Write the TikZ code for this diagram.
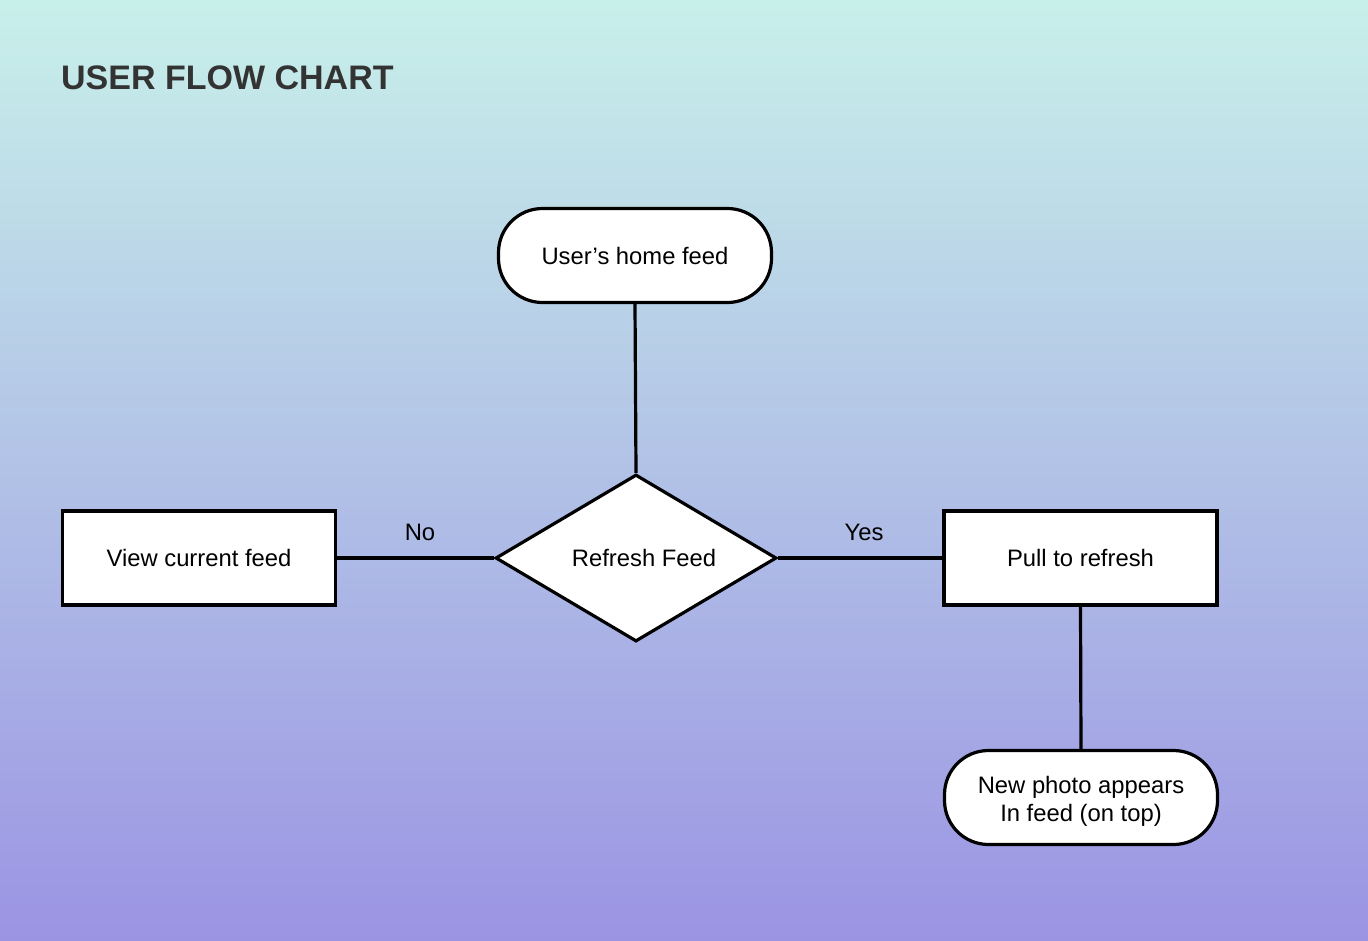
\documentclass[tikz,border=0pt]{standalone}
\usepackage{fontspec}
\setmainfont{Liberation Sans}
\usetikzlibrary{shapes.geometric}
\definecolor{bgtop}{HTML}{C8F0EA}
\definecolor{bgbottom}{HTML}{9B94E3}
\definecolor{titlegray}{HTML}{333333}

\begin{document}
\begin{tikzpicture}[x=1pt,y=1pt,yscale=-1,xscale=1,
  every node/.style={inner sep=0pt,font=\fontsize{23.8}{28}\selectfont},
  procbox/.style={draw,line width=3.2pt,fill=white,minimum width=273pt,minimum height=94pt},
  termbox/.style={procbox,rounded corners=44pt,align=center},
  choicebox/.style={diamond,aspect=1.7,draw,line width=3.2pt,fill=white,minimum width=281pt,minimum height=167pt},
  link/.style={line width=3.2pt}]
%set diagram to 1368 x 940

%Shape: Background
\shade[top color=bgtop,bottom color=bgbottom] (0,0) rectangle (1368,940);

% Text Node
\node [anchor=west,text=titlegray,font=\fontsize{34}{38}\selectfont\bfseries] (title) at (61,78) {USER FLOW CHART};

%Shape: Terminal
\node [termbox] (home) at (635,255.5) {User’s home feed};
%Shape: Diamond
\node [choicebox] (decide) at (636,558) {\hspace*{16pt}Refresh Feed};
%Shape: Rectangle
\node [procbox] (view) at (199,558) {View current feed};
%Shape: Rectangle
\node [procbox] (pull) at (1080.5,558) {Pull to refresh};
%Shape: Terminal
\node [termbox] (photo) at (1081,797.5) {\rule{0pt}{25pt}New photo appears\\In feed (on top)};

%Straight Lines
\draw [link] (home.south) -- (decide.north);
%Straight Lines
\draw [link] (view.east) -- (decide.west);
%Straight Lines
\draw [link] (decide.east) -- (pull.west);
%Straight Lines
\draw [link] (pull.south) -- (photo.north);

% Text Node
\node (no) at (420,532) {No};
% Text Node
\node (yes) at (864,532) {Yes};

\end{tikzpicture}
\end{document}
